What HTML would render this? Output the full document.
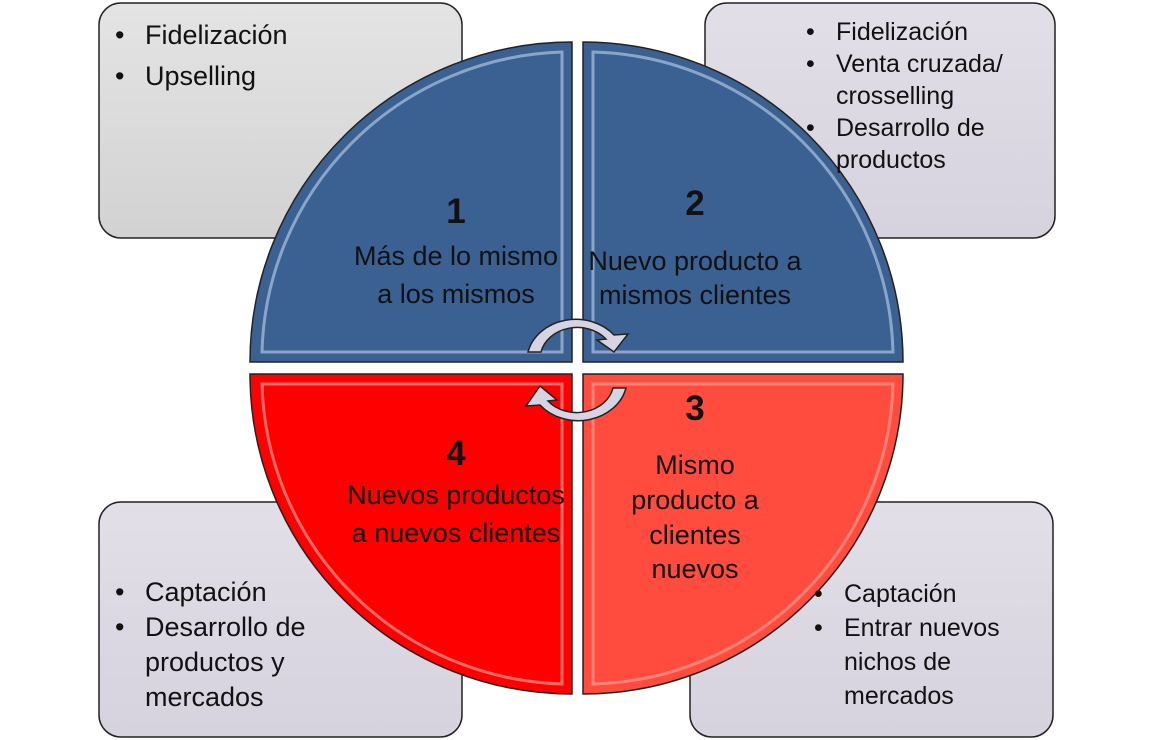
<!DOCTYPE html>
<html><head><meta charset="utf-8"><style>
body{margin:0;width:1154px;height:740px;background:#fff;overflow:hidden;font-family:"Liberation Sans",sans-serif}
svg{position:absolute;left:0;top:0}
.t{position:absolute;font-size:27px;color:#111;line-height:41px}
ul{margin:0;padding:0;list-style:none}
li{position:relative;padding-left:46px}
li:before{content:"•";position:absolute;left:16px}
.c{position:absolute;text-align:center;font-size:27px;color:#111;width:260px;white-space:nowrap}
.n{position:absolute;text-align:center;font-weight:bold;font-size:35px;width:260px;color:#111}
</style></head><body>
<svg width="1154" height="740">
<defs>
<linearGradient id="g1" x1="0" y1="0" x2="0" y2="1"><stop offset="0" stop-color="#e4e4e4"/><stop offset="1" stop-color="#d2d2d2"/></linearGradient>
<linearGradient id="g2" x1="0" y1="0" x2="0" y2="1"><stop offset="0" stop-color="#e2dfe8"/><stop offset="1" stop-color="#d6d2de"/></linearGradient>
</defs>
<rect x="99" y="3" width="363" height="235" rx="22" fill="url(#g1)" stroke="#222" stroke-width="1.5"/>
<rect x="705" y="3" width="350" height="235" rx="22" fill="url(#g2)" stroke="#222" stroke-width="1.5"/>
<rect x="99" y="502" width="363" height="235" rx="22" fill="url(#g2)" stroke="#222" stroke-width="1.5"/>
<rect x="690" y="502" width="363" height="235" rx="22" fill="url(#g2)" stroke="#222" stroke-width="1.5"/>
<g stroke="#222" stroke-width="1.5">
<path d="M572,362 L250,362 A322,320 0 0 1 572,42 Z" fill="#3a6191"/>
<path d="M583,362 L583,42 A320,320 0 0 1 903,362 Z" fill="#3a6191"/>
<path d="M572,374 L572,694 A322,320 0 0 1 250,374 Z" fill="#ff0000"/>
<path d="M583,374 L903,374 A320,320 0 0 1 583,694 Z" fill="#ff4c3e"/>
</g>
<g fill="none" stroke="#9fb6d6" stroke-width="3" opacity="0.8">
<path d="M562,352 L262,352 A310,308 0 0 1 562,52 Z"/>
<path d="M593,352 L593,52 A308,308 0 0 1 893,352 Z"/>
</g>
<g fill="none" stroke="#ff9a90" stroke-width="3" opacity="0.7">
<path d="M562,384 L562,684 A310,308 0 0 1 262,384 Z"/>
<path d="M593,384 L893,384 A308,308 0 0 1 593,684 Z"/>
</g>
<path d="M528,352 A49,42 0 0 1 614,335 L628,334 L614,352 L597,340 L606,339 A37,31 0 0 0 541,352 Z" fill="#d6d4e2" stroke="#222" stroke-width="1.5"/>
<path d="M626,388 A49,42 0 0 1 540,405 L526,406 L540,386 L557,400 L548,401 A37,31 0 0 0 613,388 Z" fill="#d6d4e2" stroke="#222" stroke-width="1.5"/>
</svg>
<div class="t" style="left:99px;top:15px"><ul><li>Fidelización</li><li>Upselling</li></ul></div>
<div class="t" style="left:790px;top:16px;font-size:25px;line-height:32px"><ul><li>Fidelización</li><li>Venta cruzada/<br>crosselling</li><li>Desarrollo de<br>productos</li></ul></div>
<div class="t" style="left:99px;top:575px;line-height:35px"><ul><li>Captación</li><li>Desarrollo de<br>productos y<br>mercados</li></ul></div>
<div class="t" style="left:798px;top:577px;font-size:25px;line-height:34px"><ul><li>Captación</li><li>Entrar nuevos<br>nichos de<br>mercados</li></ul></div>

<div class="n" style="left:326px;top:192px">1</div>
<div class="c" style="left:326px;top:241px">Más de lo mismo</div>
<div class="c" style="left:326px;top:279px">a los mismos</div>

<div class="n" style="left:565px;top:184px">2</div>
<div class="c" style="left:565px;top:246px">Nuevo producto a</div>
<div class="c" style="left:565px;top:280px">mismos clientes</div>

<div class="n" style="left:565px;top:389px">3</div>
<div class="c" style="left:565px;top:450px">Mismo</div>
<div class="c" style="left:565px;top:485px">producto a</div>
<div class="c" style="left:565px;top:520px">clientes</div>
<div class="c" style="left:565px;top:554px">nuevos</div>

<div class="n" style="left:326px;top:434px">4</div>
<div class="c" style="left:326px;top:480px">Nuevos productos</div>
<div class="c" style="left:326px;top:518px">a nuevos clientes</div>
</body></html>
